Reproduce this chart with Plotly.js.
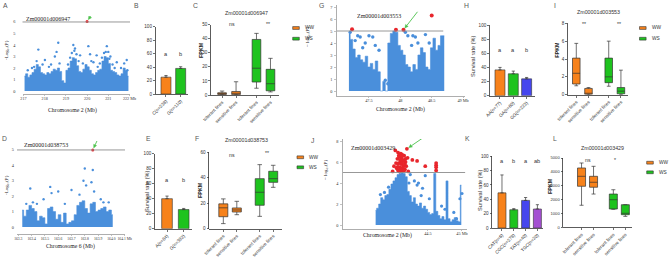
<!DOCTYPE html>
<html><head><meta charset="utf-8">
<script src="https://cdn.plot.ly/plotly-3.0.1.min.js"></script>
<style>html,body{margin:0;padding:0;background:#fff;}#chart{width:669px;height:268px;}</style>
</head><body><div id="chart"></div>
<script>
// ================= DATA =================
// Panel A: chromosome 2 (Mb) Manhattan, dense cloud envelope + sparse points
const aBinMb = [217.05,217.15,217.25,217.35,217.45,217.55,217.65,217.75,217.85,217.95,218.05,218.15,218.25,218.35,218.45,218.55,218.65,218.75,218.85,218.95,219.05,219.15,219.25,219.35,219.45,219.55,219.65,219.75,219.85,219.95,220.05,220.15,220.25,220.35,220.45,220.55,220.65,220.75,220.85,220.95,221.05,221.15,221.25,221.35,221.45,221.55,221.65,221.75,221.85,221.95];
const aBinLogP = [1.3,1.5,1.2,1.4,1.6,1.9,2.3,2.1,1.6,1.5,1.4,1.6,1.5,1.7,1.9,1.8,2.0,1.7,0.9,0.7,1.8,2.0,2.6,2.9,2.8,2.2,1.7,1.6,1.9,2.3,2.1,1.8,1.5,1.4,1.6,1.8,1.9,2.6,3.0,2.9,2.4,1.8,1.7,1.6,1.4,1.3,1.5,2.0,1.8,1.3];
const aPtMb = [217.50,217.70,217.90,218.01,218.30,218.48,218.56,218.64,219.20,219.35,219.43,219.50,219.67,219.80,220.06,220.14,220.30,220.45,220.60,220.80,220.93,221.00,221.10,221.40,221.60,221.87,217.20,217.40,217.62,218.20,218.70,219.10,219.28,219.40,219.60,220.20,220.50,220.70,220.88,221.05,221.20,221.30,221.75,221.90];
const aPtLogP = [2.1,3.6,2.3,2.7,2.3,3.0,3.4,4.2,2.9,4.0,3.7,3.2,3.1,2.4,3.9,3.2,2.5,3.1,2.4,3.3,3.9,3.4,3.0,2.5,2.0,2.7,1.8,2.0,2.6,2.1,2.4,2.3,3.3,3.5,2.6,2.6,2.1,2.9,3.4,2.8,2.3,2.0,2.4,1.8];
const aHitMb = [220.0];
const aHitLogP = [6.05];
const aThreshold = 6;
const aGene = "Zm00001d006947";
const aTicks = [217,218,219,220,221,222];
const aTickText = ["217","218","219","220","221","222 Mb"];

// Panel D: chromosome 6
const dBinMb = [163.33,163.35,163.37,163.39,163.41,163.43,163.45,163.47,163.49,163.51,163.53,163.55,163.57,163.59,163.61,163.63,163.65,163.67,163.69,163.71,163.73,163.75,163.77,163.79,163.81,163.83,163.85,163.87,163.89,163.91,163.93,163.95,163.97,163.99,164.01];
const dBinLogP = [1.1,0.7,1.1,1.4,1.2,1.0,0.4,0.7,0.6,0.2,1.2,1.3,1.0,0.5,0.8,0.3,0.9,0.2,0.3,0.4,0.8,1.4,1.6,1.7,1.2,0.9,1.5,1.6,1.0,1.1,1.2,1.3,1.0,1.1,0.8];
const dPtMb = [163.39,163.41,163.44,163.49,163.54,163.55,163.60,163.65,163.70,163.79,163.80,163.81,163.85,163.86,163.87,163.92,163.94,163.98,163.36,163.76];
const dPtLogP = [2.5,1.6,1.5,1.8,2.6,2.2,2.3,1.5,2.4,3.0,3.8,2.7,2.9,3.7,2.3,1.8,1.6,1.6,1.5,2.1];
const dHitMb = [163.86];
const dHitLogP = [5.0];
const dThreshold = 5;
const dGene = "Zm00001d038753";
const dTicks = [163.3,163.4,163.5,163.6,163.7,163.8,163.9,164.0,164.1];
const dTickText = ["163.3","163.4","163.5","163.6","163.7","163.8","163.9","164.0","164.1 Mb"];

// Panel G: chromosome 2 (47-49 Mb)
const gBinMb = [47.18,47.22,47.26,47.30,47.34,47.38,47.42,47.46,47.50,47.54,47.58,47.62,47.66,47.70,47.74,47.78,47.82,47.86,47.90,47.94,47.98,48.02,48.06,48.10,48.14,48.18,48.22,48.26,48.30,48.34,48.38,48.42,48.46,48.50,48.54,48.58,48.62,48.66,48.70];
const gBinLogP = [4.8,4.3,3.5,2.8,3.0,2.6,2.4,2.9,2.0,2.3,1.8,2.5,1.6,0,0.8,0,4.0,4.8,5.0,4.9,3.8,3.4,3.0,2.2,2.0,1.6,2.2,1.8,3.0,3.6,3.2,2.0,1.8,3.6,4.4,3.4,3.8,4.6,4.6];
const gPtMb = [47.20,47.32,47.36,47.44,47.50,47.56,47.60,47.66,47.76,47.80,48.08,48.12,48.18,48.20,48.24,48.28,48.40,48.46,47.40,47.28];
const gPtLogP = [4.9,4.6,4.5,4.0,4.6,4.5,3.8,3.4,0.9,0.6,4.9,4.6,3.8,4.6,4.5,4.0,4.7,4.0,3.6,4.2];
const gHitMb = [47.23,47.93,48.05,48.50];
const gHitLogP = [5.15,5.1,5.1,6.3];
const gThreshold = 5;
const gGene = "Zm00001d003553";
const gTicks = [47.5,48,48.5,49];
const gTickText = ["47.5","48","48.5","49 Mb"];

// Panel J: chromosome 2 (44-45 Mb)
const jBinMb = [43.73,43.76,43.79,43.82,43.85,43.88,43.91,43.94,43.97,44.00,44.03,44.06,44.09,44.12,44.15,44.18,44.21,44.24,44.27,44.30,44.33,44.36,44.39,44.42,44.45,44.48,44.51,44.54,44.57,44.60,44.63,44.66,44.69,44.72,44.75,44.78,44.81,44.84,44.87,44.90,44.93,44.96,44.99];
const jBinLogP = [1.4,1.6,2.0,2.6,2.4,2.8,2.9,3.4,3.9,4.2,4.5,4.8,4.9,5.0,4.9,4.6,3.2,2.8,2.2,2.6,2.0,1.8,2.1,1.6,1.8,1.5,1.2,1.0,1.1,4.9,1.3,0.9,0.6,0.8,0.5,4.2,0.6,0.3,0.5,0.7,0.4,0.3,3.8];
const jPtMb = [43.80,43.86,43.92,44.22,44.30,44.34,44.40,44.42,44.46,44.52,44.70,44.75,44.88,44.92,44.97,45.00,44.24,44.36];
const jPtLogP = [2.9,3.1,3.6,4.0,4.2,3.8,2.8,3.5,4.7,2.5,1.8,1.5,1.2,0.6,2.5,3.0,4.8,4.0];
const jHitMb = [43.98,44.00,44.02,44.03,44.04,44.05,44.06,44.06,44.07,44.08,44.09,44.10,44.11,44.12,44.12,44.13,44.14,44.15,44.16,44.17,44.18,44.19,44.20,44.21,44.27,44.34,44.46,44.62,44.62,44.62,44.62,44.05,44.08,44.10,44.11,44.13,44.14,44.16,44.09,44.07,44.15,44.12,44.17,44.06,44.10,44.13];
const jHitLogP = [5.1,5.6,7.1,5.9,5.4,6.3,5.2,6.9,5.9,6.5,5.5,6.8,5.8,6.7,5.15,6.2,5.6,6.6,5.3,6.0,5.6,7.25,6.4,5.1,6.2,6.1,5.6,5.2,5.5,5.7,5.9,5.5,5.1,6.0,6.4,5.4,6.1,5.8,6.2,6.6,5.2,5.9,6.3,5.8,5.3,6.6];
const jThreshold = 5;
const jGene = "Zm00001d003429";
const jTicks = [44.5,45];
const jTickText = ["44.5","45 Mb"];

// Bar panels: survival rate (%)
const bGroups = ["C(n=238)","G(n=110)"];
const bRate = [25,38];
const bErr = [2.5,2.5];
const bLetters = ["a","b"];
const eGroups = ["A(n=84)","G(n=382)"];
const eRate = [40,25.5];
const eErr = [3.5,1.5];
const eLetters = ["a","b"];
const hGroups = ["AA(n=77)","GA(n=60)","GG(n=223)"];
const hRate = [36.5,31,23.8];
const hErr = [3.5,3.8,2];
const hLetters = ["a","a","b"];
const kGroups = ["CAT(n=6)","CGC(n=278)","TAT(n=40)","TGC(n=20)"];
const kRate = [49,25.5,38.5,26.5];
const kErr = [25,1.5,4,6];
const kLetters = ["a","b","a","ab"];

// Box panels: FPKM
const boxLines = ["tolerant lines","sensitive lines","tolerant lines","sensitive lines"];
const boxConds = ["WW","WW","WS","WS"];
const cLow = [0,0,4.8,2.2];
const cQ1 = [0.4,0.3,9.2,3];
const cMed = [1,1.2,19,8];
const cQ3 = [1.6,2.5,39.4,18.2];
const cHigh = [2.8,9.4,43.7,26];
const cSig = ["ns","**"];
const fLow = [4,11,9.7,32.5];
const fQ1 = [9.4,13.1,18.4,36.4];
const fMed = [16.4,14.7,28.6,39.3];
const fQ3 = [19.5,16.3,39.3,45.1];
const fHigh = [23.4,21.5,50.3,49.8];
const fSig = ["ns","**"];
const iLow = [1.0,0,0.95,0];
const iQ1 = [1.2,0.05,1.35,0.1];
const iMed = [2.4,0.1,2.0,0.4];
const iQ3 = [4.1,0.7,4.1,0.8];
const iHigh = [5.75,0.8,6.0,2.75];
const iSig = ["**","**"];
const lLow = [1590,2400,1300,790];
const lQ1 = [2960,2890,1320,910];
const lMed = [3680,3250,1990,1010];
const lQ3 = [4280,3680,2400,1630];
const lHigh = [4640,4400,2710,1630];
const lSig = ["ns","*"];

// ================= STYLE / LAYOUT =================
const W = 669, H = 268;
const SANS = 'Liberation Sans, Arial, sans-serif';
const SERIF = 'Liberation Serif, Times New Roman, serif';
const BLUE = '#4a8fdb', RED = '#e8262c', ARROW = '#4cc24c';
const ORANGE = '#f7821b', GREEN = '#1ec31e', VIOLETBLUE = '#4646ee', PURPLE = '#a450d2';
const AXC = '#333';

const traces = [];
const layout = {width:W, height:H, margin:{l:0,r:0,t:0,b:0}, paper_bgcolor:'#fff', plot_bgcolor:'rgba(0,0,0,0)',
  showlegend:false, barmode:'overlay', annotations:[], shapes:[], font:{family:SANS, color:AXC}};

const sfx = n => n === 1 ? '' : String(n);
function setAxes(n, xpx, ypx, xcfg, ycfg){
  layout['xaxis'+sfx(n)] = Object.assign({domain:[xpx[0]/W, xpx[1]/W], anchor:'y'+sfx(n), showgrid:false, zeroline:false, fixedrange:true}, xcfg);
  layout['yaxis'+sfx(n)] = Object.assign({domain:[1-ypx[1]/H, 1-ypx[0]/H], anchor:'x'+sfx(n), showgrid:false, zeroline:false, fixedrange:true}, ycfg);
}
function fontOf(fam, size, color, weight){ const f = {family:fam, size:size, color:color||AXC}; if (weight) f.weight = weight; return f; }
function txt(text, x, y, size, opts){
  layout.annotations.push(Object.assign({xref:'paper', yref:'paper', x:x/W, y:1-y/H, text:text, showarrow:false,
    xanchor:'center', yanchor:'middle', font:fontOf(SANS, size)}, opts||{}));
}

// arrow drawn as shapes anchored (pixel size mode) on a data point
function arrowTo(xa, ya, px0, py0, tailDx, tailUp){
  const len = Math.hypot(tailDx, tailUp), ux = tailDx/len, uy = tailUp/len;
  const sx = ux*2, sy = uy*2;
  const bx = sx + ux*3.6, by = sy + uy*3.6;
  const nx = -uy*1.7, ny = ux*1.7;
  const common = {xref:xa, yref:ya, xsizemode:'pixel', ysizemode:'pixel', xanchor:px0, yanchor:py0};
  layout.shapes.push(Object.assign({type:'line', x0:tailDx, y0:tailUp, x1:bx, y1:by, line:{color:ARROW, width:0.9}}, common));
  layout.shapes.push(Object.assign({type:'path', path:`M${sx},${sy} L${bx+nx},${by+ny} L${bx-nx},${by-ny} Z`,
    fillcolor:ARROW, line:{color:ARROW, width:0.3}}, common));
}

// ---------- Manhattan ----------
function manhattan(n, cfg){
  const xa = 'x'+sfx(n), ya = 'y'+sfx(n);
  setAxes(n, cfg.xpx, cfg.ypx,
    {range:cfg.xr, tickvals:cfg.ticks, ticktext:cfg.tickText, tickangle:0, showline:true, linecolor:'#9a9a9a', linewidth:0.8,
     ticks:'outside', ticklen:1.5, tickwidth:0.6, tickcolor:'#9a9a9a', tickfont:fontOf(SERIF, cfg.xtf), ticklabelstandoff:-1},
    {range:cfg.yr, dtick:cfg.ydtick, tick0:0, showline:cfg.yline, linecolor:'#9a9a9a', linewidth:0.8,
     ticks:cfg.yline?'outside':'', ticklen:2, tickwidth:0.6, tickcolor:'#9a9a9a', tickfont:fontOf(SERIF, 4.3),
     ticklabelstandoff:cfg.standoff});
  traces.push({type:'scatter', mode:'lines', xaxis:xa, yaxis:ya, x:cfg.binMb, y:cfg.binLogP,
    line:{shape:'hvh', width:0.6, color:BLUE}, fill:'tozeroy', fillcolor:BLUE});
  traces.push({type:'scatter', mode:'markers', xaxis:xa, yaxis:ya, x:cfg.ptMb, y:cfg.ptLogP, marker:{color:BLUE, size:cfg.ms}});
  traces.push({type:'scatter', mode:'markers', xaxis:xa, yaxis:ya, x:cfg.hitMb, y:cfg.hitLogP, marker:{color:RED, size:cfg.ms+0.6}});
  layout.shapes.push({type:'line', xref:xa+' domain', yref:ya, x0:0, x1:cfg.thrEnd, y0:cfg.thr, y1:cfg.thr, line:{color:'#8c8c8c', width:0.9}});
  txt(cfg.gene, cfg.geneXY[0], cfg.geneXY[1], 6, {font:fontOf(SERIF, 6, '#222')});
  arrowTo(xa, ya, cfg.arrowHit[0], cfg.arrowHit[1], cfg.arrowTail[0], cfg.arrowTail[1]);
  txt(cfg.xtitle, cfg.xtXY[0], cfg.xtXY[1], 5.8, {font:fontOf(SERIF, 5.8, '#222')});
  txt(cfg.ytitle, cfg.ytXY[0], cfg.ytXY[1], 5, {font:fontOf(SERIF, 5, '#222'), textangle:-90});
}

manhattan(1, {xpx:[22.5,130], ypx:[16,94], xr:[216.953,222.024], yr:[-0.26,6.52], ydtick:1, yline:false, standoff:6, xtf:4.2,
  ticks:aTicks, tickText:aTickText, binMb:aBinMb, binLogP:aBinLogP, ptMb:aPtMb, ptLogP:aPtLogP,
  hitMb:aHitMb, hitLogP:aHitLogP, ms:2.4, thr:aThreshold, thrEnd:1, gene:aGene, geneXY:[48,19],
  arrowHit:[aHitMb[0], aHitLogP[0]], arrowTail:[8,12], xtitle:'Chromosome 2 (Mb)', xtXY:[72,110.5],
  ytitle:'-Log₁₀(P)', ytXY:[7,50]});
manhattan(7, {xpx:[17,125], ypx:[141,234], xr:[163.2902,164.1023], yr:[-0.455,5.58], ydtick:1, yline:false, standoff:2, xtf:3.7,
  ticks:dTicks, tickText:dTickText, binMb:dBinMb, binLogP:dBinLogP, ptMb:dPtMb, ptLogP:dPtLogP,
  hitMb:dHitMb, hitLogP:dHitLogP, ms:2.4, thr:dThreshold, thrEnd:1, gene:dGene, geneXY:[46,145],
  arrowHit:[dHitMb[0], dHitLogP[0]], arrowTail:[7,15], xtitle:'Chromosome 6 (Mb)', xtXY:[70,246],
  ytitle:'-Log₁₀(P)', ytXY:[6,185]});
manhattan(4, {xpx:[337,465], ypx:[5,96], xr:[46.99,49.031], yr:[-0.417,7.167], ydtick:1, yline:true, standoff:1, xtf:4.3,
  ticks:gTicks, tickText:gTickText, binMb:gBinMb, binLogP:gBinLogP, ptMb:gPtMb, ptLogP:gPtLogP,
  hitMb:gHitMb, hitLogP:gHitLogP, ms:3.4, thr:gThreshold, thrEnd:0.83, gene:gGene, geneXY:[379,16],
  arrowHit:[gHitMb[2], gHitLogP[2]], arrowTail:[14,18], xtitle:'Chromosome 2 (Mb)', xtXY:[400,109],
  ytitle:'− log₁₀(P)', ytXY:[307,37]});
manhattan(10, {xpx:[343,467], ypx:[139,229], xr:[43.25,45.074], yr:[-0.381,8.19], ydtick:2, yline:true, standoff:1, xtf:4.3,
  ticks:jTicks, tickText:jTickText, binMb:jBinMb, binLogP:jBinLogP, ptMb:jPtMb, ptLogP:jPtLogP,
  hitMb:jHitMb, hitLogP:jHitLogP, ms:3.2, thr:jThreshold, thrEnd:0.985, gene:jGene, geneXY:[373,148],
  arrowHit:[44.19, 7.25], arrowTail:[16,11], xtitle:'Chromosome 2 (Mb)', xtXY:[387,235],
  ytitle:'− log₁₀(P)', ytXY:[325,170]});

// ---------- bar panels ----------
function barPanel(n, cfg){
  const xa = 'x'+sfx(n), ya = 'y'+sfx(n);
  const pos = cfg.groups.map((g,i)=>i);
  setAxes(n, cfg.xpx, cfg.ypx,
    {range:cfg.xr, tickvals:pos, ticktext:cfg.groups, tickangle:-45, showline:true, linecolor:AXC, linewidth:0.8,
     ticks:'outside', ticklen:2, tickwidth:0.7, tickcolor:AXC, tickfont:fontOf(SANS, 4.6)},
    {range:[0,100], dtick:20, showline:true, linecolor:AXC, linewidth:0.8, ticks:'outside', ticklen:2, tickwidth:0.7,
     tickcolor:AXC, tickfont:fontOf(SANS, 4.6)});
  traces.push({type:'bar', xaxis:xa, yaxis:ya, x:pos, y:cfg.vals, width:cfg.bw,
    marker:{color:cfg.colors, line:{color:'#333', width:0.6}},
    error_y:{type:'data', symmetric:false, array:cfg.errs, arrayminus:cfg.errs.map(()=>0), color:'#333', thickness:0.7, width:1.6}});
  cfg.letters.forEach((t,i)=>layout.annotations.push({xref:xa, yref:ya, x:i, y:cfg.letterY, text:t, showarrow:false,
    font:fontOf(SANS, 5.6)}));
  if (cfg.ytXY) txt('Survival rate (%)', cfg.ytXY[0], cfg.ytXY[1], 5.6, {textangle:-90});
}
barPanel(2, {xpx:[155.7,188.3], ypx:[26.7,94], xr:[-0.70,1.52], groups:bGroups, vals:bRate, errs:bErr, letters:bLetters,
  colors:[ORANGE, GREEN], bw:0.68, letterY:60});
barPanel(8, {xpx:[155,191.7], ypx:[153.7,228.7], xr:[-0.72,1.48], groups:eGroups, vals:eRate, errs:eErr, letters:eLetters,
  colors:[ORANGE, GREEN], bw:0.64, letterY:65, ytXY:[147,192]});
barPanel(5, {xpx:[490,535], ypx:[25,95.7], xr:[-0.75,2.63], groups:hGroups, vals:hRate, errs:hErr, letters:hLetters,
  colors:[ORANGE, GREEN, VIOLETBLUE], bw:0.75, letterY:64, ytXY:[473,57]});
barPanel(11, {xpx:[492.3,543.3], ypx:[156.3,228], xr:[-0.82,3.5], groups:kGroups, vals:kRate, errs:kErr, letters:kLetters,
  colors:[ORANGE, GREEN, VIOLETBLUE, PURPLE], bw:0.68, letterY:93, ytXY:[480,191]});

// ---------- box panels ----------
function boxPanel(n, cfg){
  const xa = 'x'+sfx(n), ya = 'y'+sfx(n);
  const pos = boxLines.map((l,i)=>(boxConds[i]==='WW'?0:cfg.off) + (l==='tolerant lines'?0:1));
  setAxes(n, cfg.xpx, cfg.ypx,
    {range:cfg.xr, tickvals:pos, ticktext:boxLines, tickangle:-45, showline:true, linecolor:AXC, linewidth:0.8,
     ticks:'outside', ticklen:2, tickwidth:0.7, tickcolor:AXC, tickfont:fontOf(SANS, 4.7)},
    {range:cfg.yr, dtick:cfg.dtick, showline:true, linecolor:AXC, linewidth:0.8, ticks:'outside', ticklen:2, tickwidth:0.7,
     tickcolor:AXC, tickfont:fontOf(SANS, cfg.ytf)});
  ['WW','WS'].forEach(cond=>{
    const idx = boxConds.map((c,i)=>c===cond?i:-1).filter(i=>i>=0);
    const pick = arr => idx.map(i=>arr[i]);
    traces.push({type:'box', xaxis:xa, yaxis:ya, x:pick(pos), q1:pick(cfg.q1), median:pick(cfg.med), q3:pick(cfg.q3),
      lowerfence:pick(cfg.lo), upperfence:pick(cfg.hi), width:cfg.bw, boxpoints:false, whiskerwidth:0.5,
      fillcolor: cond==='WW'?ORANGE:GREEN, line:{color:'#333', width:0.7}});
  });
  txt(cfg.gene, cfg.titleXY[0], cfg.titleXY[1], 5.3);
  txt(cfg.sig[0], cfg.sigXY[0][0], cfg.sigXY[0][1], 5.2);
  txt(cfg.sig[1], cfg.sigXY[1][0], cfg.sigXY[1][1], 5.2);
  txt('FPKM', cfg.fpkmXY[0], cfg.fpkmXY[1], 5.4, {textangle:-90, font:fontOf(SANS, 5.4, '#222', 700)});
  const L = cfg.leg;
  [['WW',ORANGE,0],['WS',GREEN,1]].forEach(([name,col,k])=>{
    const y0 = L.y + k*L.dy;
    layout.shapes.push({type:'rect', xref:'paper', yref:'paper', x0:L.x/W, x1:(L.x+6.6)/W, y0:1-(y0+1.4)/H, y1:1-(y0-1.4)/H,
      fillcolor:col, line:{color:'#333', width:0.6}});
    txt(name, L.x+10, y0, 4.8, {xanchor:'left'});
  });
}
boxPanel(3, {xpx:[211,279], ypx:[24.5,95], xr:[-0.79,4.07], off:2.46, bw:0.62, yr:[0,50], dtick:10, ytf:4.6,
  q1:cQ1, med:cMed, q3:cQ3, lo:cLow, hi:cHigh, gene:aGene, titleXY:[246,13], sig:cSig, sigXY:[[232,24],[268,24]],
  fpkmXY:[201,50], leg:{x:292.7, y:28, dy:10.7}});
boxPanel(9, {xpx:[209.3,281.7], ypx:[152.3,228.7], xr:[-1.04,4.33], off:2.7, bw:0.67, yr:[0,60], dtick:20, ytf:4.6,
  q1:fQ1, med:fMed, q3:fQ3, lo:fLow, hi:fHigh, gene:dGene, titleXY:[246,140], sig:fSig, sigXY:[[231.7,155],[266.7,152.5]],
  fpkmXY:[200,190], leg:{x:297, y:157.3, dy:10}});
boxPanel(6, {xpx:[568,628], ypx:[23.3,94.7], xr:[-0.68,4.24], off:2.66, bw:0.62, yr:[0,8], dtick:2, ytf:4.6,
  q1:iQ1, med:iMed, q3:iQ3, lo:iLow, hi:iHigh, gene:gGene, titleXY:[598.5,11.7], sig:iSig, sigXY:[[584,24],[619,24]],
  fpkmXY:[556.7,50], leg:{x:639.5, y:28, dy:10.7}});
boxPanel(12, {xpx:[563.3,631.7], ypx:[158,227.3], xr:[-1.52,4.18], off:2.65, bw:0.67, yr:[0,5000], dtick:1000, ytf:4.1,
  q1:lQ1, med:lMed, q3:lQ3, lo:lLow, hi:lHigh, gene:jGene, titleXY:[602.5,148], sig:lSig, sigXY:[[588.3,160],[615,160]],
  fpkmXY:[550,186], leg:{x:646.7, y:162.7, dy:9.6}});

// ---------- panel letters ----------
[['A',5,6],['B',136,6],['C',196,6],['G',321,6],['H',466,6],['I',555,6],
 ['D',4,138],['E',148,138],['F',197,138],['J',312,140],['K',467,138],['L',555,138]]
 .forEach(([t,x,y])=>txt(t,x,y,6.8,{font:fontOf(SANS,6.8,'#555')}));

Plotly.newPlot('chart', traces, layout, {staticPlot:true, displayModeBar:false});
</script>
</body></html>
